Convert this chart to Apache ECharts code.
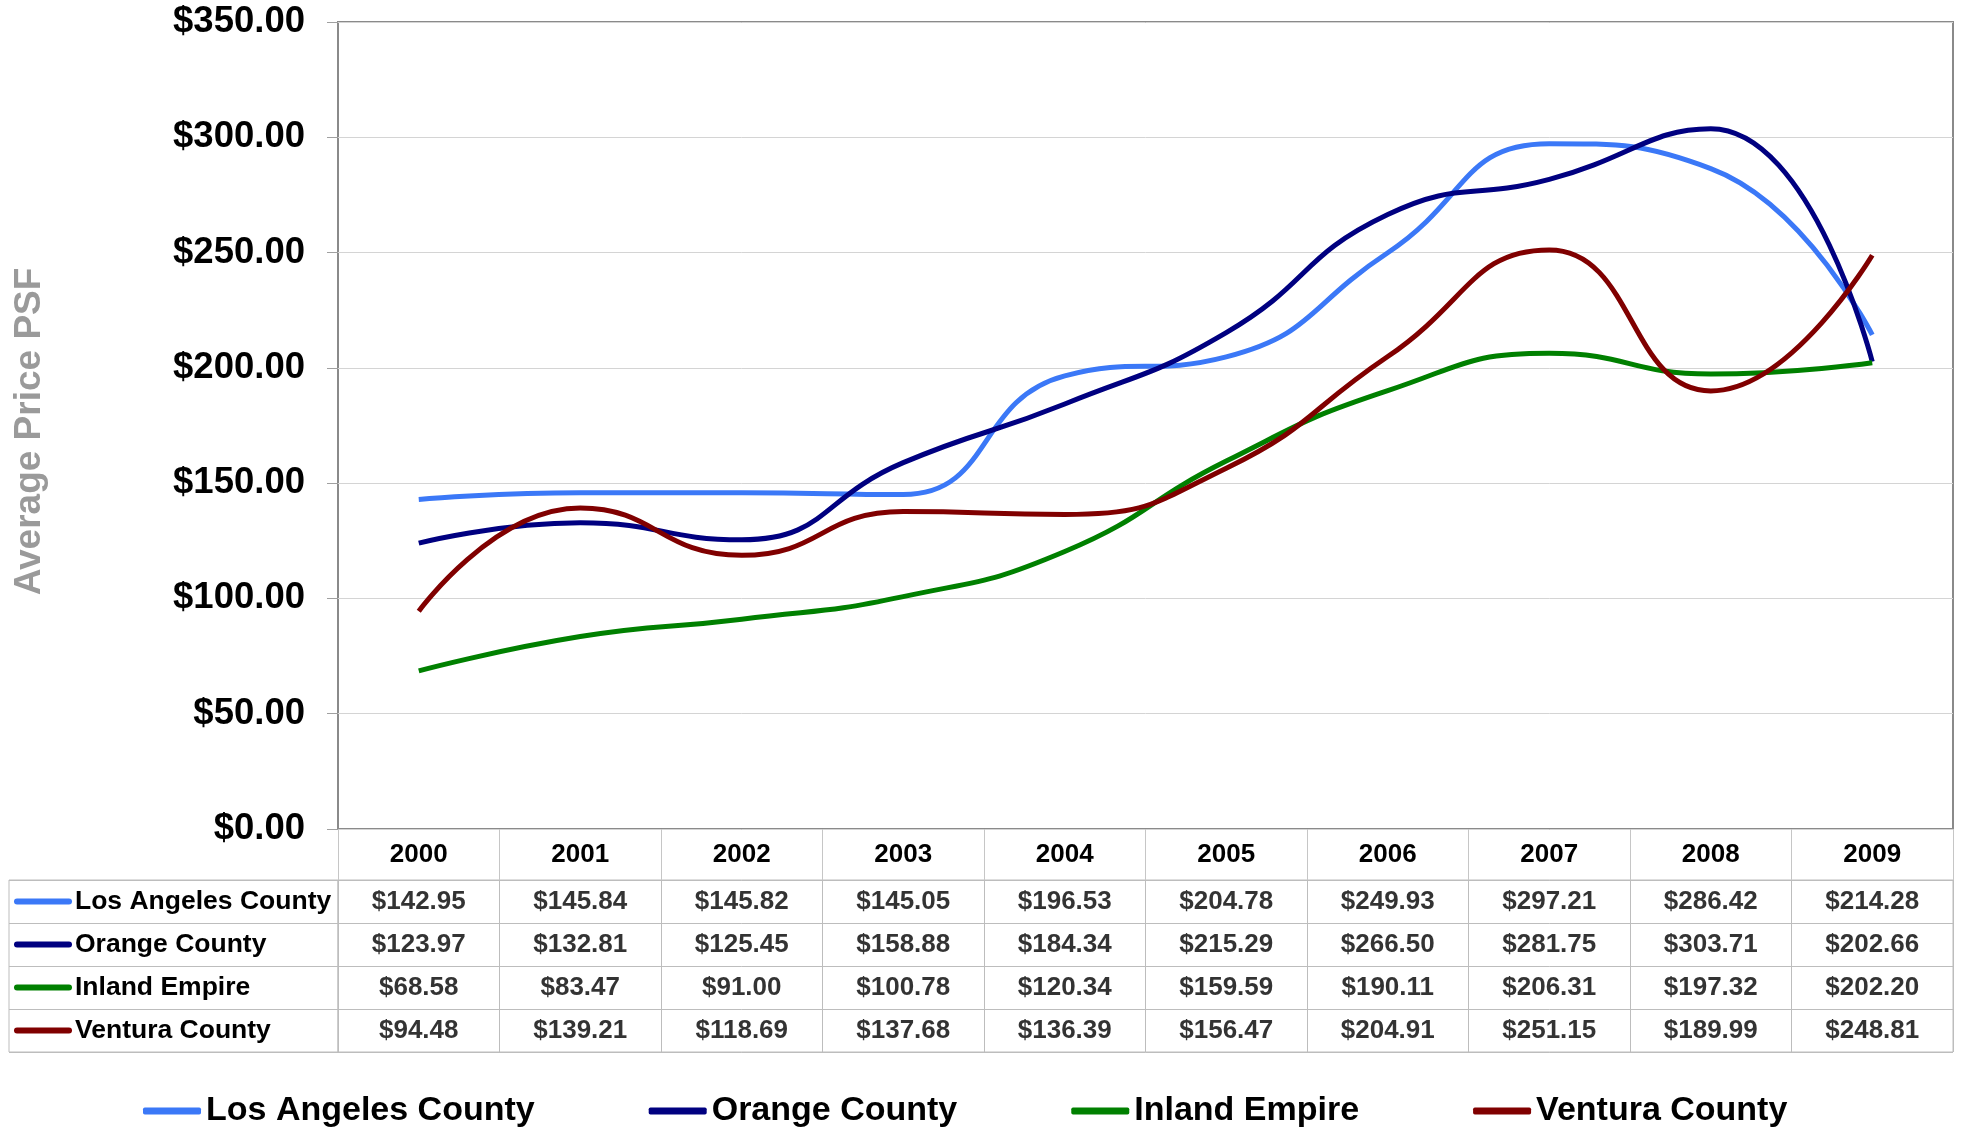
<!DOCTYPE html>
<html>
<head>
<meta charset="utf-8">
<script src="https://cdn.jsdelivr.net/npm/echarts@6/dist/echarts.min.js"></script>
<style>
  html, body { margin: 0; padding: 0; background: #fff; }
  #chart { width: 1963px; height: 1128px; }
</style>
</head>
<body>
<div id="chart"></div>
<script>
const years = ["2000", "2001", "2002", "2003", "2004", "2005", "2006", "2007", "2008", "2009"];
const regions = ["Los Angeles County", "Orange County", "Inland Empire", "Ventura County"];
const laCounty = [142.95, 145.84, 145.82, 145.05, 196.53, 204.78, 249.93, 297.21, 286.42, 214.28];
const orangeCounty = [123.97, 132.81, 125.45, 158.88, 184.34, 215.29, 266.5, 281.75, 303.71, 202.66];
const inlandEmpire = [68.58, 83.47, 91.0, 100.78, 120.34, 159.59, 190.11, 206.31, 197.32, 202.2];
const venturaCounty = [94.48, 139.21, 118.69, 137.68, 136.39, 156.47, 204.91, 251.15, 189.99, 248.81];
const colors = ["#3b78f7", "#000080", "#008000", "#800000"];

const values = [laCounty, orangeCounty, inlandEmpire, venturaCounty];
const font = "'Liberation Sans', Arial, sans-serif";
const money = (v) => "$" + v.toFixed(2);

// cells of the data table under the plot
const tableCells = [];
values.forEach((row, r) => {
  row.forEach((v, i) => tableCells.push([years[i], regions[r], v]));
});

const rich = { t: { fontSize: 26.5, fontWeight: "bold", color: "#000", fontFamily: font, padding: [0, 0, 0, 3] } };
colors.forEach((c, i) => {
  rich["i" + i] = { backgroundColor: c, width: 58, height: 6, borderRadius: 3 };
});

const lineSeries = regions.map((name, i) => ({
  name: name,
  type: "line",
  data: values[i],
  smooth: 0.5,
  symbol: "none",
  xAxisIndex: 0,
  yAxisIndex: 0,
  lineStyle: { color: colors[i], width: 5 },
  itemStyle: { color: colors[i] },
  z: 3 + i,
}));

const option = {
  animation: false,
  backgroundColor: "#fff",
  textStyle: { fontFamily: font },
  grid: [
    { left: 338, right: 10, top: 22, bottom: 299, show: true, borderColor: "#8a8a8a", borderWidth: 2 },
    { left: 338, right: 10, top: 880, height: 172, show: true, borderColor: "#bdbdbd", borderWidth: 1 },
    { left: 9, width: 329, top: 880, height: 172, show: true, borderColor: "#bdbdbd", borderWidth: 1 },
  ],
  xAxis: [
    {
      gridIndex: 0,
      type: "category",
      data: years,
      boundaryGap: true,
      axisLine: { show: false },
      axisTick: { show: true, length: 51, interval: 0, lineStyle: { color: "#c6c6c6", width: 1 } },
      axisLabel: { fontSize: 26, fontWeight: "bold", color: "#000", margin: 13, fontFamily: font },
      splitLine: { show: false },
    },
    {
      gridIndex: 1,
      type: "category",
      data: years,
      boundaryGap: true,
      axisLine: { show: false },
      axisTick: { show: false },
      axisLabel: { show: false },
      splitLine: { show: true, interval: 0, lineStyle: { color: "#bdbdbd", width: 1 } },
    },
    {
      gridIndex: 2,
      type: "value",
      show: false,
    },
  ],
  yAxis: [
    {
      gridIndex: 0,
      type: "value",
      min: 0,
      max: 350,
      interval: 50,
      name: "Average Price PSF",
      nameLocation: "middle",
      nameGap: 290,
      nameRotate: 90,
      nameTextStyle: { fontSize: 37, fontWeight: "bold", color: "#9a9a9a", fontFamily: font, padding: [0, 12, 0, 0] },
      axisLine: { show: false },
      axisTick: { show: true, length: 11, lineStyle: { color: "#a0a0a0" } },
      axisLabel: { formatter: money, fontSize: 36.5, fontWeight: "bold", color: "#000", margin: 33, fontFamily: font },
      splitLine: { show: true, lineStyle: { color: "#d4d4d4", width: 1 } },
    },
    {
      gridIndex: 1,
      type: "category",
      data: regions,
      inverse: true,
      axisLine: { show: false },
      axisTick: { show: false },
      axisLabel: { show: false },
      splitLine: { show: true, interval: 0, lineStyle: { color: "#bdbdbd", width: 1 } },
    },
    {
      gridIndex: 2,
      type: "category",
      data: regions,
      inverse: true,
      axisLine: { show: false },
      axisTick: { show: false },
      axisLabel: {
        inside: true,
        margin: 5,
        align: "left",
        formatter: (v, idx) => "{i" + idx + "|}{t|" + v + "}",
        rich: rich,
      },
      splitLine: { show: true, interval: 0, lineStyle: { color: "#bdbdbd", width: 1 } },
    },
  ],
  legend: {
    data: regions,
    left: 138,
    top: 1089,
    itemWidth: 58,
    itemHeight: 7,
    itemGap: 114,
    icon: "roundRect",
    textStyle: { fontSize: 34, fontWeight: "bold", color: "#000", fontFamily: font },
  },
  series: lineSeries.concat([
    {
      name: "table",
      type: "scatter",
      xAxisIndex: 1,
      yAxisIndex: 1,
      data: tableCells,
      symbolSize: 1,
      itemStyle: { color: "rgba(0,0,0,0)" },
      label: {
        show: true,
        position: "inside",
        formatter: (p) => money(p.value[2]),
        fontSize: 26,
        fontWeight: "bold",
        color: "#000",
        fontFamily: font,
      },
    },
  ]),
};

const chart = echarts.init(document.getElementById("chart"));
chart.setOption(option);
</script>
</body>
</html>
